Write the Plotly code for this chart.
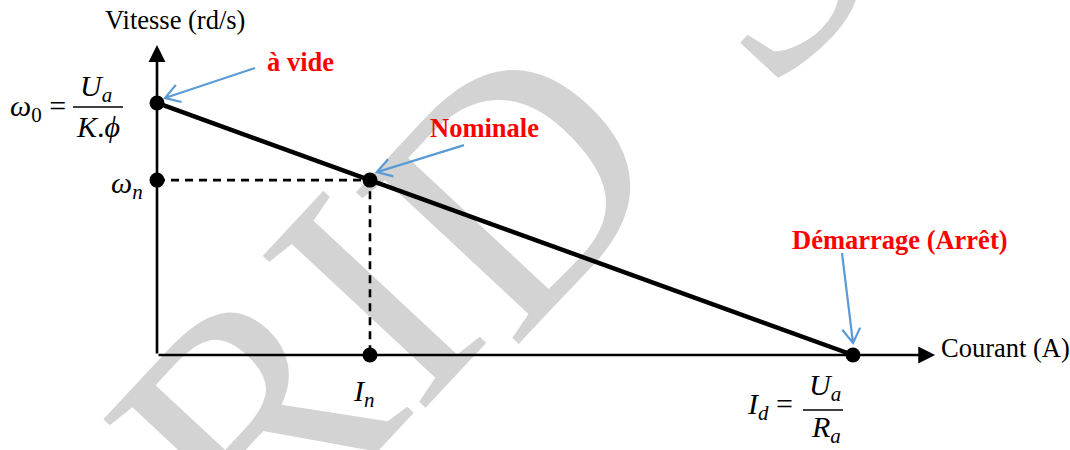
import math
import plotly.graph_objects as go

# Normalised characteristic of a DC motor: speed vs armature current
current_pts = [0.0, 0.306, 1.0]      # 0, I_n, I_d
speed_pts = [1.0, 0.694, 0.0]        # omega_0, omega_n, 0
AXIS_X_END = 1.118
AXIS_Y_END = 1.230

W, H = 1070, 450
X_RANGE = [-0.2256, 1.3118]
Y_RANGE = [-0.377, 1.4087]

SERIF = "Liberation Serif, Times New Roman, serif"
BLUE = "#5B9BD5"
RED = "#FF0000"

I0, In, Id = current_pts
w0, wn, _ = speed_pts


def to_px(x, y):
    px = (x - X_RANGE[0]) / (X_RANGE[1] - X_RANGE[0]) * W
    py = (Y_RANGE[1] - y) / (Y_RANGE[1] - Y_RANGE[0]) * H
    return px, py


def paper(x, y, dx=0.0, dy=0.0):
    px, py = to_px(x, y)
    return (px + dx) / W, 1 - (py + dy) / H


fig = go.Figure()

# dashed projections of the rated point
fig.add_trace(go.Scatter(
    x=[I0, In, In], y=[wn, wn, 0.0], mode="lines",
    line=dict(color="black", width=2.6, dash="8px,6px"),
    hoverinfo="skip", showlegend=False))

# characteristic line
fig.add_trace(go.Scatter(
    x=[I0, Id], y=[w0, 0.0], mode="lines",
    line=dict(color="black", width=4.5),
    hoverinfo="skip", showlegend=False))

# remarkable points
fig.add_trace(go.Scatter(
    x=[I0, I0, In, In, Id], y=[w0, wn, wn, 0.0, 0.0], mode="markers",
    marker=dict(color="black", size=15),
    hoverinfo="skip", showlegend=False))

annotations = []

# axes with arrow heads
for (xt, yt) in [(AXIS_X_END, 0.0), (0.0, AXIS_Y_END)]:
    annotations.append(dict(
        x=xt, y=yt, ax=0.0, ay=0.0, xref="x", yref="y", axref="x", ayref="y",
        showarrow=True, arrowhead=2, arrowsize=1.3, arrowwidth=2.6,
        arrowcolor="black", text="", standoff=0, startstandoff=0))


def text(x, y, dx, dy, s, size=26.5, color="black", xanchor="center", bold=False):
    px, py = paper(x, y, dx, dy)
    annotations.append(dict(
        x=px, y=py, xref="paper", yref="paper", text=s, showarrow=False,
        xanchor=xanchor, yanchor="middle",
        font=dict(family=SERIF, size=size, color=color,
                  weight="bold" if bold else "normal")))


# axis titles
text(0.0, AXIS_Y_END, 18, -25, "Vitesse (rd/s)")
text(AXIS_X_END, 0.0, 4, -7, "Courant (A)", xanchor="left")

# operating point labels
text(I0, w0, 143, -41, "à vide", color=RED, bold=True)
text(In, wn, 115, -52, "Nominale", color=RED, bold=True)
text(Id, 0.0, 47, -115, "Démarrage (Arrêt)", color=RED, bold=True)

# formulas
MS = 30
text(I0, w0, -89, 5, "<i>ω</i><sub>0</sub> =", size=MS, xanchor="right")
text(I0, w0, -61, -15, "<i>U</i><sub><i>a</i></sub>", size=MS)
text(I0, w0, -59, 24, "<i>K</i>.<i>ϕ</i>", size=MS)
text(I0, wn, -12, 5, "<i>ω</i><sub><i>n</i></sub>", size=MS, xanchor="right")
text(In, 0.0, -6, 38, "<i>I</i><sub><i>n</i></sub>", size=MS)
text(Id, 0.0, -58, 51, "<i>I</i><sub><i>d</i></sub> =", size=MS, xanchor="right")
text(Id, 0.0, -28, 32, "<i>U</i><sub><i>a</i></sub>", size=MS)
text(Id, 0.0, -27, 74, "<i>R</i><sub><i>a</i></sub>", size=MS)

shapes = []

# fraction bars
for (x, y, dx0, dx1, dy) in [(I0, w0, -84, -34, 4), (Id, 0.0, -50, -10, 55)]:
    ax0, ay0 = paper(x, y, dx0, dy)
    ax1, ay1 = paper(x, y, dx1, dy)
    shapes.append(dict(type="line", xref="paper", yref="paper",
                       x0=ax0, y0=ay0, x1=ax1, y1=ay1,
                       line=dict(color="black", width=1.3)))


# blue pointer arrows with open heads
def pointer(x, y, tip, tail, head=17, spread=32):
    tx, ty = to_px(x, y)
    tipx, tipy = tx + tip[0], ty + tip[1]
    tlx, tly = tx + tail[0], ty + tail[1]
    ang = math.atan2(tly - tipy, tlx - tipx)
    wings = []
    for s in (-1, 1):
        a = ang + s * math.radians(spread)
        wings.append((tipx + head * math.cos(a), tipy + head * math.sin(a)))

    def p(u, v):
        return f"{u / W:.5f},{1 - v / H:.5f}"

    path = (f"M{p(tlx, tly)} L{p(tipx, tipy)} "
            f"M{p(*wings[0])} L{p(tipx, tipy)} L{p(*wings[1])}")
    shapes.append(dict(type="path", xref="paper", yref="paper", path=path,
                       line=dict(color=BLUE, width=2.2)))


pointer(I0, w0, (8, -5), (98, -35))
pointer(In, wn, (7, -8), (94, -35))
pointer(Id, 0.0, (0, -12), (-11, -102))


# background watermark letters, drawn beneath the plot
def watermark(letter, cx, cy, size=340, angle=-47):
    x, y = cx / W, 1 - cy / H
    shapes.append(dict(
        type="rect", xref="paper", yref="paper", layer="below",
        x0=x - 0.004, x1=x + 0.004, y0=y - 0.004, y1=y + 0.004,
        line=dict(width=0), fillcolor="rgba(0,0,0,0)",
        label=dict(text=letter, textposition="middle center", textangle=angle,
                   font=dict(family=SERIF, size=size, color="#D3D3D3"))))


watermark("R", 226, 392)
watermark("I", 345, 272)
watermark("D", 485, 158)
watermark("S", 722, -72)

fig.update_layout(
    width=W, height=H, margin=dict(l=0, r=0, t=0, b=0),
    paper_bgcolor="white", plot_bgcolor="white",
    xaxis=dict(range=X_RANGE, visible=False, fixedrange=True),
    yaxis=dict(range=Y_RANGE, visible=False, fixedrange=True),
    annotations=annotations, shapes=shapes, showlegend=False)

fig.write_html("out.html")
